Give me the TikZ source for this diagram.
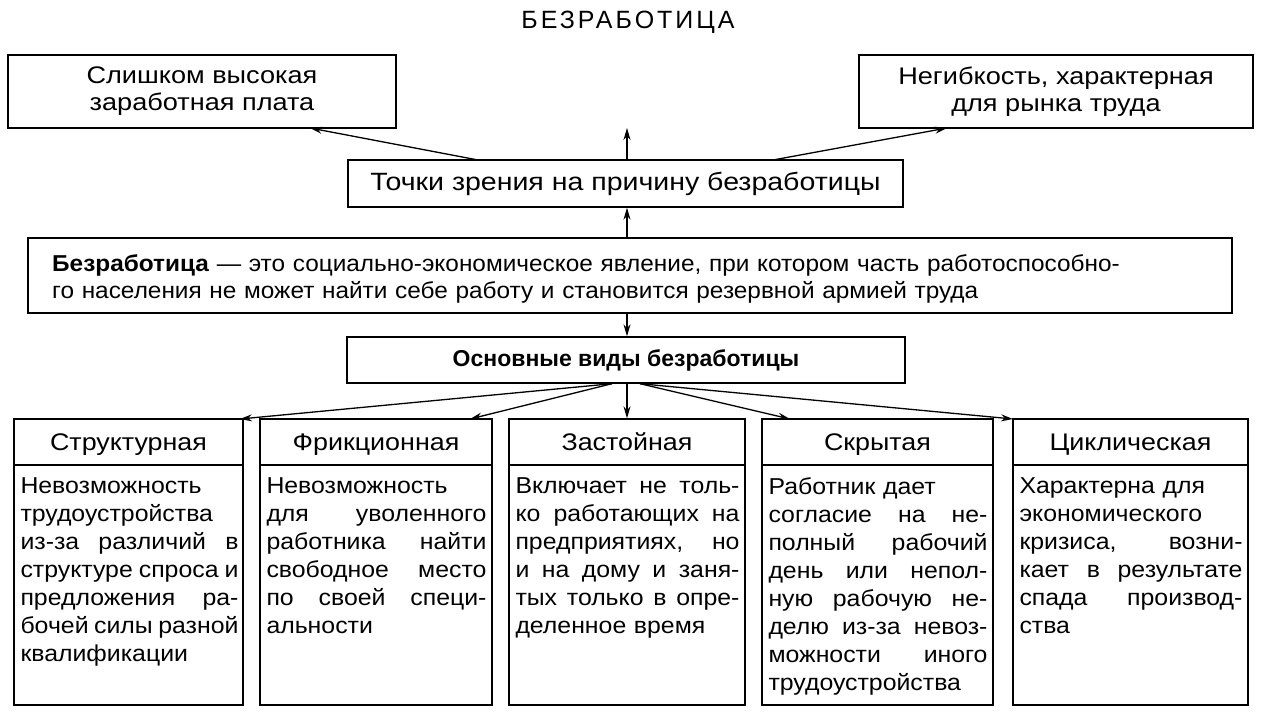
\documentclass[tikz,border=0pt]{standalone}
\usepackage{fontspec}
\setmainfont{Liberation Sans}
\newfontfamily\titlefont[LetterSpace=12]{Liberation Sans}
\newfontfamily\bodyfont[FakeStretch=1.08]{Liberation Sans}
\newfontfamily\hdrfont[FakeStretch=1.12]{Liberation Sans}
\newfontfamily\topfont[FakeStretch=1.13]{Liberation Sans}
\newfontfamily\viewfont[FakeStretch=1.14]{Liberation Sans}
\newfontfamily\deffont[FakeStretch=1.06]{Liberation Sans}
\usetikzlibrary{arrows.meta}
\newcommand{\fullline}[1]{\makebox[\hsize][s]{\spaceskip=0.25em plus 3em minus 0.13em\relax #1}\\}
\begin{document}
\begin{tikzpicture}[x=1pt,y=-1pt,
  box/.style={draw, line width=1.4pt, inner sep=0pt, align=center},
  hdr/.style={box, minimum width=#1, minimum height=46pt},
  body/.style={draw, line width=1.4pt, inner sep=0pt, minimum width=#1, minimum height=240pt},
  htxt/.style={inner sep=0pt, anchor=base, font=\hdrfont\fontsize{24}{28}\selectfont},
  txt/.style={inner sep=0pt, align=left, text width=#1,
    font=\bodyfont\fontsize{23}{28}\selectfont},
  arr/.style={line width=1.3pt, -{Stealth[length=12pt,width=7pt]}}]
\useasboundingbox (0,0) rectangle (1280,720);
\fill[white] (0,0) rectangle (1280,720);

\node[inner sep=0pt, font=\titlefont\fontsize{25}{28}\selectfont] (title) at (628,22) {БЕЗРАБОТИЦА};

\node[box, minimum width=388pt, minimum height=73pt, font=\topfont\fontsize{24}{27}\selectfont] (high) at (202,91.5)
  {Слишком высокая\\заработная плата};
\node[box, minimum width=394pt, minimum height=73pt, font=\topfont\fontsize{24}{27}\selectfont] (rigid) at (1056,91.5)
  {Негибкость, характерная\\для рынка труда};
\node[box, minimum width=555pt, minimum height=47pt, font=\viewfont\fontsize{25}{28}\selectfont] (views) at (625.5,183.5)
  {Точки зрения на причину безработицы};
\node[box, minimum width=1204pt, minimum height=75pt] (def) at (630,275.5) {};
\node[inner sep=0pt, align=left, text width=1170pt, font=\deffont\fontsize{23}{27}\selectfont, anchor=north west] (deftxt) at (52,254)
  {\textbf{Безработица} — это социально-экономическое явление, при котором часть работоспособно-\\го населения не может найти себе работу и становится резервной армией труда};
\node[box, minimum width=558pt, minimum height=46pt, font=\bfseries\fontsize{23}{27}\selectfont] (kinds) at (626,360)
  {Основные виды безработицы};

\coordinate (upend) at (627,128);
\draw[arr] (views.north -| upend) -- (upend);
\draw[arr] (478,160) -- (310,128);
\draw[arr] (773,160) -- (947,128);
\draw[arr] (def.north -| upend) -- (views.south -| upend);
\draw[arr] (def.south -| upend) -- (kinds.north -| upend);

% bottom boxes
\foreach \n/\cx/\w in {1/128.5/229, 2/376/232, 3/627/236, 4/877.5/231, 5/1130.5/235}{
  \node[hdr=\w pt] (h\n) at (\cx,442) {};
  \node[body=\w pt] (b\n) at (\cx,585) {};
}
\node[htxt] (t1) at ([yshift=-8.5pt]h1.center) {Структурная};
\node[htxt] (t2) at ([yshift=-8.5pt]h2.center) {Фрикционная};
\node[htxt] (t3) at ([yshift=-8.5pt]h3.center) {Застойная};
\node[htxt] (t4) at ([yshift=-8.5pt]h4.center) {Скрытая};
\node[htxt] (t5) at ([yshift=-8.5pt]h5.center) {Циклическая};

\node[txt=218pt, anchor=north west] (x1) at ([xshift=7pt,yshift=-13pt]b1.north west)
  {Невозможность\\трудоустройства\\\fullline{из-за различий в}\fullline{структуре спроса и}\fullline{предложения ра-}\fullline{бочей силы разной}квалификации};
\node[txt=220pt, anchor=north west] (x2) at ([xshift=7pt,yshift=-13pt]b2.north west)
  {Невозможность\\\fullline{для уволенного}\fullline{работника найти}\fullline{свободное место}\fullline{по своей специ-}альности};
\node[txt=224pt, anchor=north west] (x3) at ([xshift=7pt,yshift=-13pt]b3.north west)
  {\fullline{Включает не толь-}\fullline{ко работающих на}\fullline{предприятиях, но}\fullline{и на дому и заня-}\fullline{тых только в опре-}деленное время};
\node[txt=219pt, anchor=north west] (x4) at ([xshift=7pt,yshift=-13pt]b4.north west)
  {Работник дает\\\fullline{согласие на не-}\fullline{полный рабочий}\fullline{день или непол-}\fullline{ную рабочую не-}\fullline{делю из-за невоз-}\fullline{можности иного}трудоустройства};
\node[txt=223pt, anchor=north west] (x5) at ([xshift=7pt,yshift=-13pt]b5.north west)
  {Характерна для\\экономического\\\fullline{кризиса, возни-}\fullline{кает в результате}\fullline{спада производ-}ства};

\draw[arr] (kinds.south -| upend) -- (h3.north);
\draw[arr] ([xshift=-14pt]kinds.south) -- (240,419);
\draw[arr] ([xshift=-14pt]kinds.south) -- (470,419);
\draw[arr] ([xshift=14pt]kinds.south) -- (790,419);
\draw[arr] ([xshift=14pt]kinds.south) -- (1013,419);
\end{tikzpicture}
\end{document}
